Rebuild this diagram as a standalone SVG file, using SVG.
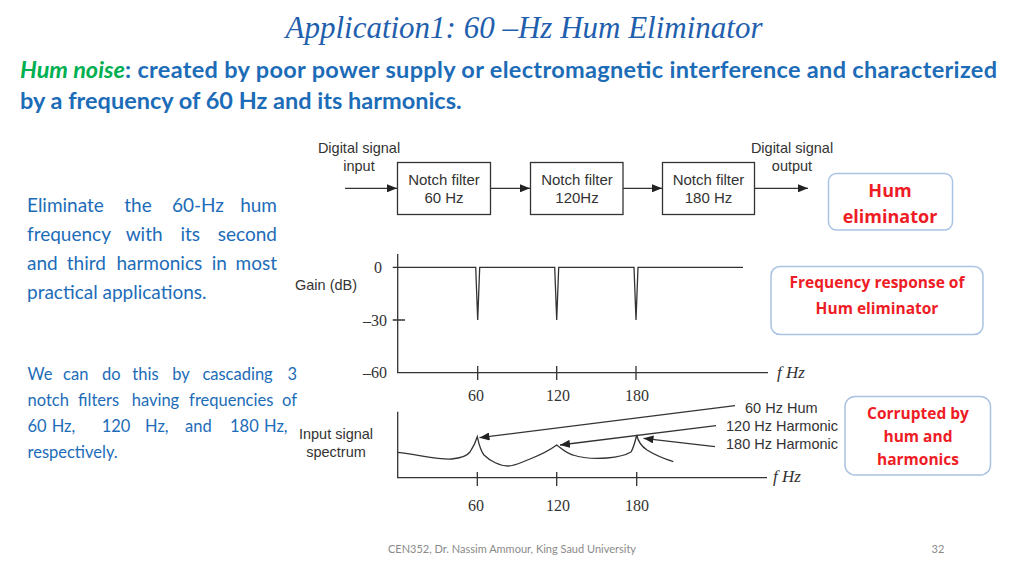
<svg xmlns="http://www.w3.org/2000/svg" width="1024" height="575" viewBox="0 0 1024 575">
<defs>
<style>
.title{font-family:"Liberation Serif",serif;font-style:italic;font-size:31px;fill:#1f5fae}
.body{font-family:Lato,"Liberation Sans",sans-serif;fill:#1c6cb8}
.dg{font-family:"Liberation Sans",Arial,sans-serif;font-size:14.5px;fill:#333}
.bx{font-family:"Liberation Sans",Arial,sans-serif;font-size:15px;fill:#333;text-anchor:middle}
.ser{font-family:"Liberation Serif",serif;font-size:16px;fill:#333}
.fhz{font-family:"Liberation Serif",serif;font-style:italic;font-size:17px;fill:#333}
.box{fill:#fff;stroke:#333;stroke-width:1.3}
.ln{fill:none;stroke:#333;stroke-width:1.3}
.call{fill:#fff;stroke:#a9c3e4;stroke-width:1.5}
.red{font-family:"Open Sans","Liberation Sans",sans-serif;font-weight:bold;fill:#ee1c25;text-anchor:middle}
.foot{font-family:Lato,"Liberation Sans",sans-serif;font-size:11px;fill:#8a8a8a}
</style>
<marker id="ah" markerUnits="userSpaceOnUse" markerWidth="10" markerHeight="8" refX="10" refY="4" orient="auto">
<path d="M0,0 L10,4 L0,8 z" fill="#222"/>
</marker>
</defs>
<rect width="1024" height="575" fill="#fff"/>

<g id="title">
<text class="title" x="524" y="38" text-anchor="middle">Application1: 60 –Hz Hum Eliminator</text>
</g>

<g id="intro" class="body" font-size="23.5" font-weight="bold">
<text x="20" y="78" fill="#00b050" font-style="italic">Hum noise</text>
<text x="125" y="78" textLength="872" lengthAdjust="spacing">: created by poor power supply or electromagnetic interference and characterized</text>
<text x="20" y="109">by a frequency of 60 Hz and its harmonics.</text>
</g>

<g id="para1" class="body" font-size="19">
<text y="212"><tspan x="27">Eliminate</tspan><tspan x="124.3">the</tspan><tspan x="171.9">60-Hz</tspan><tspan x="277" text-anchor="end">hum</tspan></text>
<text y="241"><tspan x="27">frequency</tspan><tspan x="125.7">with</tspan><tspan x="180.4">its</tspan><tspan x="277" text-anchor="end">second</tspan></text>
<text y="270"><tspan x="27">and</tspan><tspan x="66.8">third</tspan><tspan x="116.4">harmonics</tspan><tspan x="211.7">in</tspan><tspan x="277" text-anchor="end">most</tspan></text>
<text x="27" y="299">practical applications.</text>
</g>

<g id="para2" class="body" font-size="16.5">
<text y="379.5"><tspan x="27.5">We</tspan><tspan x="63.1">can</tspan><tspan x="102.1">do</tspan><tspan x="132.3">this</tspan><tspan x="172.2">by</tspan><tspan x="202.4">cascading</tspan><tspan x="297" text-anchor="end">3</tspan></text>
<text y="405.5"><tspan x="27.5">notch</tspan><tspan x="78.1">filters</tspan><tspan x="131.7">having</tspan><tspan x="189.1">frequencies</tspan><tspan x="297" text-anchor="end">of</tspan></text>
<text y="431.5"><tspan x="27.5">60</tspan><tspan x="51.7">Hz,</tspan><tspan x="101.7">120</tspan><tspan x="145">Hz,</tspan><tspan x="185">and</tspan><tspan x="230">180</tspan><tspan x="264">Hz,</tspan></text>
<text x="27.5" y="457.5">respectively.</text>
</g>

<g id="label-in" class="dg" text-anchor="middle">
<text x="359" y="153">Digital signal</text>
<text x="359" y="171">input</text>
</g>
<g id="label-out" class="dg" text-anchor="middle">
<text x="792" y="153">Digital signal</text>
<text x="792" y="171">output</text>
</g>

<g id="notch60">
<rect class="box" x="397.5" y="162.5" width="93" height="52"/>
<text class="bx" x="444" y="185">Notch filter</text>
<text class="bx" x="444" y="203">60 Hz</text>
</g>
<g id="notch120">
<rect class="box" x="530.5" y="162.5" width="92.5" height="52"/>
<text class="bx" x="577" y="185">Notch filter</text>
<text class="bx" x="577" y="203">120Hz</text>
</g>
<g id="notch180">
<rect class="box" x="662.5" y="162.5" width="92" height="52"/>
<text class="bx" x="708.5" y="185">Notch filter</text>
<text class="bx" x="708.5" y="203">180 Hz</text>
</g>

<g id="connectors" class="ln" stroke="#222">
<line x1="345" y1="188.3" x2="397" y2="188.3" marker-end="url(#ah)"/>
<line x1="490.5" y1="188.3" x2="530" y2="188.3" marker-end="url(#ah)"/>
<line x1="623" y1="188.3" x2="662" y2="188.3" marker-end="url(#ah)"/>
<line x1="754.5" y1="188.3" x2="808" y2="188.3" marker-end="url(#ah)"/>
<line x1="735" y1="405.7" x2="479.5" y2="437.7" marker-end="url(#ah)"/>
<line x1="716" y1="425.7" x2="560" y2="445" marker-end="url(#ah)"/>
<line x1="715" y1="446.7" x2="643.5" y2="438.3" marker-end="url(#ah)"/>
</g>

<g id="freq-response">
<text class="dg" x="295" y="290" font-size="14">Gain (dB)</text>
<text class="ser" x="378" y="273" text-anchor="middle">0</text>
<text class="ser" x="387" y="326" text-anchor="end">–30</text>
<text class="ser" x="387" y="378" text-anchor="end">–60</text>
<path class="ln" d="M397.7,254 V372.7 H768"/>
<path class="ln" d="M392.7,320 H405 M477.7,366 V380 M556.7,366 V380 M636,366 V380"/>
<path class="ln" d="M392.7,267.3 H475.7 L477.7,320 L479.7,267.3 H554.7 L556.7,320 L558.7,267.3 H634 L636,320 L638,267.3 H743"/>
<text class="fhz" x="777" y="378">f  Hz</text>
<text class="ser" x="476" y="401" text-anchor="middle">60</text>
<text class="ser" x="558" y="401" text-anchor="middle">120</text>
<text class="ser" x="637" y="401" text-anchor="middle">180</text>
</g>

<g id="spectrum">
<text class="dg" x="336" y="439" text-anchor="middle" font-size="14">Input signal</text>
<text class="dg" x="336" y="457" text-anchor="middle" font-size="14">spectrum</text>
<path class="ln" d="M397.7,411.7 V477.7 H767"/>
<path class="ln" d="M477.3,472 V486 M556.7,472 V486 M636.7,472 V486"/>
<path class="ln" stroke-width="1.2" d="M397.7,452.3 C420,455 440,460 451.7,459 C462,458 467,456 470,452 C474,446 476,441 477.3,436.7 C478.5,442 480,450 484,455 C490,461 500,466 508,466 C515,466 522,462 530,459 C540,455 550,450 556.7,445 C562,449 566,453 573,455 C582,458 595,459 607,458 C618,457 626,455 631,452 C634,447 635.5,440 636.7,435 C638,441 641,446 647,450 C655,455 665,459 673.3,461.7"/>
<text class="fhz" x="773" y="482">f  Hz</text>
<text class="ser" x="476" y="511" text-anchor="middle">60</text>
<text class="ser" x="558" y="511" text-anchor="middle">120</text>
<text class="ser" x="637" y="511" text-anchor="middle">180</text>
<text class="dg" x="745" y="413">60 Hz Hum</text>
<text class="dg" x="726" y="431">120 Hz Harmonic</text>
<text class="dg" x="726" y="448.5">180 Hz Harmonic</text>
</g>

<g id="callout-hum">
<rect class="call" x="828.5" y="173.5" width="124" height="56.5" rx="8"/>
<text class="red" x="890" y="196.5" font-size="18">Hum</text>
<text class="red" x="890" y="223" font-size="18">eliminator</text>
</g>
<g id="callout-freq">
<rect class="call" x="771" y="266.5" width="212" height="68" rx="9"/>
<text class="red" x="877" y="288" font-size="15.5">Frequency response of</text>
<text class="red" x="877" y="314" font-size="15.5">Hum eliminator</text>
</g>
<g id="callout-corrupt">
<rect class="call" x="845" y="396.5" width="145.5" height="78.5" rx="10"/>
<text class="red" x="918" y="419" font-size="15.5">Corrupted by</text>
<text class="red" x="918" y="441.5" font-size="15.5">hum and</text>
<text class="red" x="918" y="465" font-size="15.5">harmonics</text>
</g>

<g id="footer">
<text class="foot" x="512" y="553" text-anchor="middle">CEN352, Dr. Nassim Ammour, King Saud University</text>
<text class="foot" x="938" y="553" text-anchor="middle">32</text>
</g>
</svg>
